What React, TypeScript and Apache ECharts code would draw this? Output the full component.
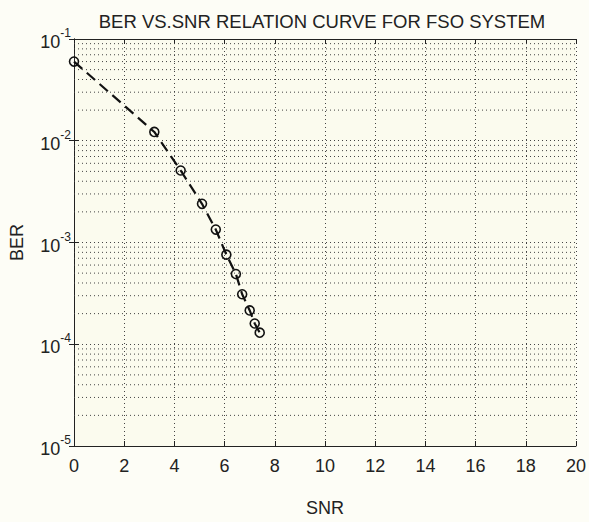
import React, { useEffect, useRef } from "react";
import * as echarts from "echarts";

const snr = [0, 3.2, 4.25, 5.1, 5.65, 6.07, 6.45, 6.7, 7.0, 7.2, 7.4];
const ber = [0.06, 0.0122, 0.0051, 0.0024, 0.00134, 0.00076, 0.00049, 0.00031, 0.000215, 0.00016, 0.00013];
const decades = [1e-5, 1e-4, 1e-3, 1e-2];
const minorSteps = [2, 3, 4, 5, 6, 7, 8, 9];
const xRange = [0, 20];
const titleText = "BER VS.SNR RELATION CURVE FOR FSO SYSTEM";

const FONT = "Liberation Sans";

export default function App() {
  const ref = useRef<HTMLDivElement>(null);
  useEffect(() => {
    if (!ref.current) return;
    const chart = echarts.init(ref.current, null, { renderer: "svg" });
    const minorValues: number[] = [];
    decades.forEach((d) => minorSteps.forEach((m) => minorValues.push(d * m)));
    const dotted = { color: "#444", width: 1, type: [1, 3] as any };
    const expFmt = (v: number) => {
      const e = Math.round(Math.log10(v));
      return `{b|10}{s|${e}}`;
    };
    const minorSeries = minorValues.map((v) => ({
      type: "line",
      xAxisIndex: 0,
      yAxisIndex: 0,
      silent: true,
      symbol: "none",
      data: [
        [xRange[0], v],
        [xRange[1], v],
      ],
      lineStyle: dotted,
      z: 1,
      tooltip: { show: false },
    }));
    chart.setOption({
      animation: false,
      backgroundColor: "#fdfdf6",
      textStyle: { fontFamily: FONT },
      title: {
        text: titleText,
        left: 317,
        textAlign: "center",
        top: 7,
        textStyle: { fontFamily: FONT, fontSize: 18.5, fontWeight: "normal", color: "#222" },
      },
      grid: {
        left: 65,
        right: 13,
        top: 39,
        bottom: 71,
        show: true,
        backgroundColor: "#fbfbee",
        borderWidth: 0,
      },
      xAxis: [
        {
          type: "value",
          min: xRange[0],
          max: xRange[1],
          interval: 2,
          name: "SNR",
          nameLocation: "middle",
          nameGap: 53,
          nameTextStyle: { fontFamily: FONT, fontSize: 18, color: "#222" },
          axisLine: { show: true, lineStyle: { color: "#222", width: 1 } },
          axisTick: { show: true, inside: true, length: 5, lineStyle: { color: "#222" } },
          axisLabel: { fontFamily: FONT, fontSize: 18, color: "#222", margin: 11 },
          splitLine: { show: true, lineStyle: dotted },
        },
        {
          type: "value",
          position: "top",
          min: xRange[0],
          max: xRange[1],
          interval: 2,
          axisLine: { show: true, lineStyle: { color: "#222", width: 1 } },
          axisTick: { show: true, inside: true, length: 5, lineStyle: { color: "#222" } },
          axisLabel: { show: false },
          splitLine: { show: false },
        },
      ],
      yAxis: [
        {
          type: "log",
          logBase: 10,
          min: 1e-5,
          max: 1e-1,
          name: "BER",
          nameLocation: "middle",
          nameGap: 48,
          nameTextStyle: { fontFamily: FONT, fontSize: 18, color: "#222" },
          axisLine: { show: true, lineStyle: { color: "#222", width: 1 } },
          axisTick: { show: true, inside: true, length: 5, lineStyle: { color: "#222" } },
          axisLabel: {
            formatter: expFmt,
            margin: 3,
            rich: {
              b: { fontFamily: FONT, fontSize: 18, color: "#222", verticalAlign: "bottom", lineHeight: 24 },
              s: { fontFamily: FONT, fontSize: 12, color: "#222", verticalAlign: "top", lineHeight: 24 },
            },
          },
          splitLine: { show: true, lineStyle: dotted },
        },
        {
          type: "log",
          logBase: 10,
          min: 1e-5,
          max: 1e-1,
          position: "right",
          axisLine: { show: true, lineStyle: { color: "#222", width: 1 } },
          axisTick: { show: true, inside: true, length: 5, lineStyle: { color: "#222" } },
          axisLabel: { show: false },
          splitLine: { show: false },
        },
      ],
      series: [
        ...minorSeries,
        {
          type: "line",
          xAxisIndex: 0,
          yAxisIndex: 0,
          data: snr.map((x, i) => [x, ber[i]]),
          symbol: "circle",
          symbolSize: 9,
          itemStyle: { color: "rgba(0,0,0,0)", borderColor: "#111", borderWidth: 1.6 },
          lineStyle: { color: "#111", width: 2.2, type: [11, 6] as any },
          z: 5,
        },
      ],
    });
    return () => chart.dispose();
  }, []);
  return (
    <div
      ref={ref}
      style={{ position: "absolute", left: 0, top: 0, width: 589, height: 522 }}
    />
  );
}
